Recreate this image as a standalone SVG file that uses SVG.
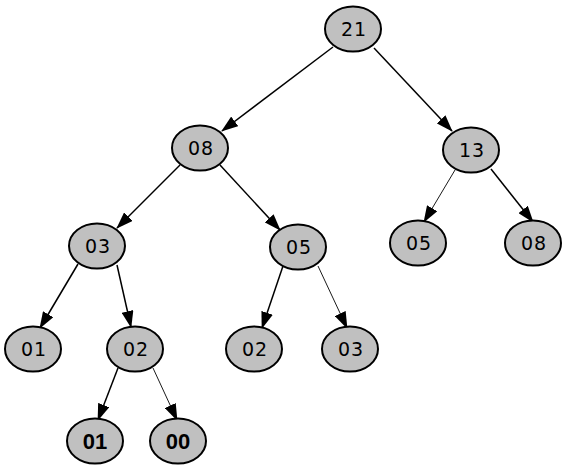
<svg xmlns="http://www.w3.org/2000/svg" width="579" height="475" viewBox="0 0 579 475">
<style>
.n{fill:#c0c0c0;stroke:#000;stroke-width:2}
.t{font-family:"DejaVu Sans",Verdana,sans-serif;font-size:19px;letter-spacing:1px;text-anchor:middle;fill:#000}
.b{font-family:"Liberation Sans",Arial,sans-serif;font-size:22px;font-weight:bold;text-anchor:middle;fill:#000}
.e{stroke:#000;stroke-width:1.5;fill:none;marker-end:url(#a)}
.e.thin{stroke-width:0.9}
</style>
<defs>
<marker id="a" markerUnits="userSpaceOnUse" markerWidth="17" markerHeight="12" viewBox="0 0 17 12" refX="16" refY="6" orient="auto">
<path d="M0,0 L17,6 L0,12 Z" fill="#000"/>
</marker>
</defs>
<rect width="579" height="475" fill="#fff"/>
<g id="connectors">
<line class="e" x1="333" y1="47" x2="222" y2="131"/>
<line class="e" x1="374" y1="48" x2="452" y2="131"/>
<line class="e" x1="180" y1="165" x2="117" y2="228"/>
<line class="e" x1="220" y1="165" x2="280" y2="230"/>
<line class="e thin" x1="455" y1="170" x2="424" y2="222"/>
<line class="e" x1="491" y1="169" x2="533" y2="222"/>
<line class="e" x1="78" y1="264" x2="40" y2="328"/>
<line class="e" x1="117" y1="265" x2="131" y2="327"/>
<line class="e" x1="283" y1="266" x2="262" y2="328"/>
<line class="e thin" x1="318" y1="266" x2="347" y2="328"/>
<line class="e" x1="118" y1="368" x2="98" y2="420"/>
<line class="e thin" x1="153" y1="368" x2="177" y2="420"/>
</g>
<g id="n21"><ellipse class="n" cx="353" cy="29" rx="28" ry="22.5"/><text class="t" x="354" y="36">21</text></g>
<g id="n08"><ellipse class="n" cx="200" cy="148" rx="28" ry="22.5"/><text class="t" x="201" y="155">08</text></g>
<g id="n13"><ellipse class="n" cx="471" cy="150" rx="28" ry="22.5"/><text class="t" x="472" y="157">13</text></g>
<g id="n03a"><ellipse class="n" cx="97" cy="246" rx="28" ry="22.5"/><text class="t" x="98" y="253">03</text></g>
<g id="n05a"><ellipse class="n" cx="298" cy="247" rx="28" ry="22.5"/><text class="t" x="299" y="254">05</text></g>
<g id="n05b"><ellipse class="n" cx="418" cy="243" rx="28" ry="22.5"/><text class="t" x="419" y="250">05</text></g>
<g id="n08b"><ellipse class="n" cx="533" cy="243" rx="28" ry="22.5"/><text class="t" x="534" y="250">08</text></g>
<g id="n01a"><ellipse class="n" cx="33" cy="349" rx="28" ry="22.5"/><text class="t" x="34" y="356">01</text></g>
<g id="n02a"><ellipse class="n" cx="135" cy="349" rx="28" ry="22.5"/><text class="t" x="136" y="356">02</text></g>
<g id="n02b"><ellipse class="n" cx="254" cy="349" rx="28" ry="22.5"/><text class="t" x="255" y="356">02</text></g>
<g id="n03b"><ellipse class="n" cx="350" cy="349" rx="28" ry="22.5"/><text class="t" x="351" y="356">03</text></g>
<g id="n01b"><ellipse class="n" cx="95" cy="441" rx="28" ry="22.5"/><text class="b" x="95" y="449">01</text></g>
<g id="n00"><ellipse class="n" cx="178" cy="441" rx="28" ry="22.5"/><text class="b" x="178" y="449">00</text></g>
</svg>
